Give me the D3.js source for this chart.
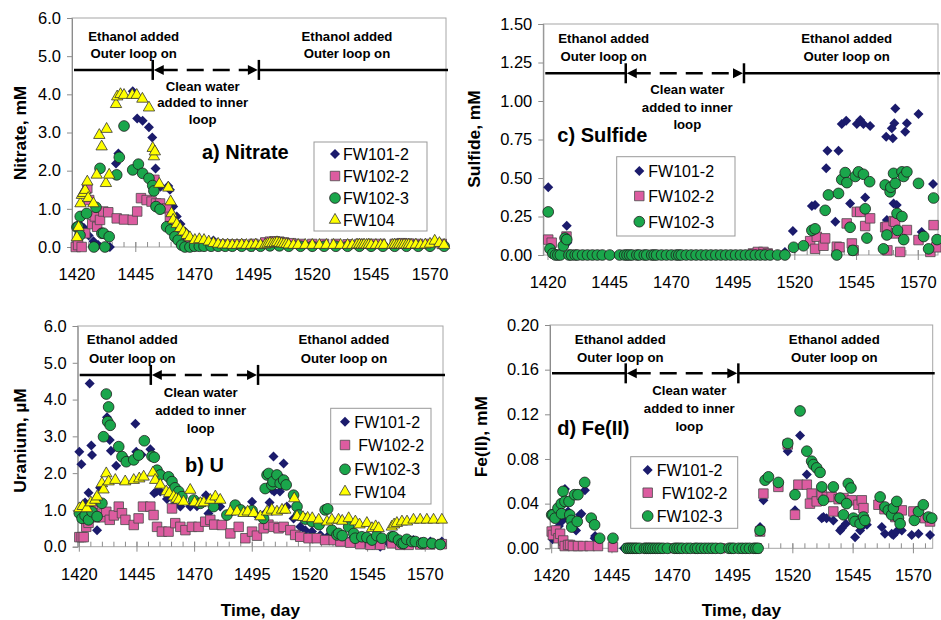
<!DOCTYPE html>
<html>
<head>
<meta charset="utf-8">
<script src="https://cdn.jsdelivr.net/npm/d3@7"></script>
<style>
  body { margin: 0; background: #fff; }
  svg text { font-family: "Liberation Sans", Arial, sans-serif; fill: #000; }
</style>
</head>
<body>
<div id="chart"></div>
<script>
var svgWidth = 941;
var svgHeight = 620;

// ---- data: [day, value] ----
// a) Nitrate, mM
var nitrate101 = [[1420,0.0],[1421,0.6],[1421.5,0.4],[1423,0.5],[1425,0.3],[1427,0.15],[1429,0.05],[1433,0.0],[1434,0.0],[1436.6,2.19],[1437.6,2.45],[1443.7,4.08],[1445.6,3.37],[1447.9,3.31],[1450.6,3.14],[1452,2.87],[1453.4,2.06],[1455.5,1.58],[1458.8,1.6],[1459.5,1.5],[1460.9,1.06],[1462.4,0.8],[1464,0.6],[1466,0.4],[1468,0.25],[1470,0.15],[1473,0.1],[1476,0.12],[1478,0.17],[1482,0.08],[1486,0.06],[1490,0.06],[1495,0.06],[1500,0.08],[1505,0.1],[1510,0.07],[1515,0.06],[1520,0.06],[1525,0.06],[1530,0.06],[1535,0.06],[1540,0.06],[1545,0.06],[1550,0.06],[1555,0.06],[1560,0.06],[1565,0.06],[1570,0.06],[1575,0.06]];
var nitrate102_2 = [[1419.5,0.0],[1420.5,0.05],[1422,0.0],[1423.5,0.36],[1424.4,1.54],[1425.2,1.23],[1426.5,0.6],[1427.6,0.8],[1428.6,0.53],[1429.8,0.71],[1431.2,0.93],[1433.3,0.91],[1436.9,0.75],[1440,0.72],[1443.7,0.71],[1445.6,0.93],[1447.2,1.28],[1449.6,1.23],[1451.7,1.19],[1452.9,1.76],[1453.6,1.14],[1455.3,1.14],[1458.1,1.01],[1459.5,0.79],[1460.9,0.53],[1462.5,0.4],[1464,0.3],[1466,0.2],[1468,0.15],[1470,0.1],[1474,0.08],[1478,0.08],[1482,0.07],[1486,0.07],[1490,0.07],[1495,0.08],[1500,0.12],[1502,0.14],[1504,0.15],[1506,0.14],[1508,0.12],[1511,0.1],[1515,0.08],[1520,0.08],[1525,0.08],[1530,0.08],[1535,0.07],[1540,0.08],[1545,0.08],[1549,0.08],[1555,0.08],[1558,0.1],[1561,0.09],[1565,0.08],[1570,0.08],[1575,0.08]];
var nitrate102_3 = [[1420,0.52],[1420.5,0.53],[1421.3,0.31],[1421.4,0.8],[1424.1,0.88],[1427.2,0.0],[1428.1,1.04],[1429.8,2.06],[1430.6,0.36],[1431.3,0.36],[1431.9,0.0],[1433.7,0.27],[1436.9,1.89],[1438,2.35],[1440,3.17],[1443.7,2.02],[1446.1,2.17],[1447.9,1.93],[1450.6,1.8],[1452.2,1.61],[1452.7,1.47],[1453.6,1.06],[1455.3,0.99],[1458.1,0.53],[1459.8,0.45],[1461.6,0.27],[1463,0.18],[1464.5,0.05],[1465.9,0.0],[1468,0.0],[1470,0.02],[1472,0.02],[1474,0.02],[1477,0.02],[1480,0.02],[1483,0.02],[1486,0.02],[1490,0.02],[1494,0.02],[1498,0.02],[1502,0.03],[1506,0.03],[1510,0.02],[1515,0.02],[1520,0.02],[1525,0.02],[1530,0.02],[1535,0.02],[1540,0.02],[1545,0.02],[1550,0.02],[1555,0.02],[1560,0.02],[1565,0.02],[1570,0.02],[1576,0.02]];
var nitrate104 = [[1420,0.25],[1420.7,0.52],[1421.5,1.14],[1422.1,1.36],[1422.7,1.41],[1423.5,1.49],[1424.4,1.71],[1424.8,1.28],[1427,1.14],[1428.4,1.89],[1429.5,2.93],[1430.5,2.63],[1432.3,1.67],[1432.6,3.09],[1433.7,1.89],[1436.6,3.74],[1437.1,3.94],[1438.5,4.0],[1440,3.98],[1443.5,3.98],[1445.4,3.98],[1447.8,3.88],[1450.6,3.65],[1452.2,2.59],[1452.7,2.37],[1453.1,2.5],[1455,1.65],[1458.8,1.55],[1459.8,1.19],[1460.2,0.88],[1460.9,0.71],[1462.4,0.6],[1463.8,0.49],[1465.2,0.4],[1466.6,0.31],[1468,0.25],[1470.1,0.18],[1472,0.2],[1474,0.18],[1476,0.14],[1478,0.1],[1480,0.08],[1482,0.06],[1484,0.06],[1486,0.05],[1488,0.05],[1490,0.06],[1492,0.05],[1494,0.05],[1496,0.06],[1498,0.05],[1500,0.06],[1501,0.08],[1502,0.1],[1503,0.09],[1504,0.1],[1505,0.12],[1506,0.1],[1507,0.09],[1508,0.08],[1509,0.07],[1510,0.06],[1512,0.05],[1514,0.05],[1517,0.05],[1520,0.05],[1523,0.05],[1526,0.05],[1529,0.05],[1532,0.05],[1535,0.05],[1537,0.05],[1539,0.06],[1540,0.06],[1541,0.05],[1542,0.06],[1543,0.05],[1544,0.06],[1545,0.05],[1547,0.05],[1549,0.05],[1550.5,0.05],[1554,0.05],[1555,0.06],[1556,0.05],[1557,0.06],[1558,0.05],[1559,0.06],[1560,0.05],[1561,0.06],[1562,0.05],[1564,0.06],[1566,0.05],[1568,0.06],[1570,0.08],[1572,0.16],[1574,0.1],[1576,0.05]];

// b) Uranium, uM
var uranium101 = [[1420,2.58],[1420.9,2.24],[1421.5,1.0],[1422.5,1.2],[1424,1.47],[1424.5,4.44],[1425.2,2.75],[1425.5,2.49],[1427.7,0.45],[1429,1.6],[1432,3.52],[1433.2,2.9],[1433.7,2.61],[1436,2.2],[1440,2.4],[1444.3,3.34],[1444.7,2.58],[1447,2.5],[1450.8,2.65],[1452.5,1.45],[1453.5,1.5],[1455.1,1.5],[1458,1.3],[1460.9,1.13],[1463.8,1.09],[1468.1,1.09],[1471,1.1],[1474.9,1.4],[1476,0.9],[1481.1,1.09],[1486,0.95],[1490,1.0],[1494.9,1.22],[1497,0.85],[1500.6,0.91],[1502.5,1.2],[1503.5,1.55],[1504.2,2.45],[1504.5,1.5],[1505.5,1.9],[1506.4,1.95],[1507,1.5],[1508.6,2.26],[1510,1.09],[1512.9,0.77],[1515.8,0.54],[1518,0.45],[1520.9,0.41],[1524.5,0.32],[1528,0.3],[1531.7,0.23],[1537.5,0.18],[1543.3,0.09],[1547,0.05],[1550.5,0.0],[1554,0.1],[1557,0.09],[1561,0.1],[1564.9,0.18],[1568,0.12],[1572.2,0.14],[1577.2,0.14]];
var uranium102_2 = [[1420,0.26],[1421,0.26],[1421.9,0.26],[1423,0.54],[1424,0.65],[1425.9,1.09],[1427,0.8],[1428.5,0.9],[1430,0.8],[1431.7,0.95],[1433.2,0.73],[1435,0.85],[1437.1,1.09],[1438.5,0.91],[1440,0.73],[1443.6,0.59],[1445.7,0.77],[1447.6,1.09],[1450.8,1.09],[1452.2,0.86],[1453.7,0.54],[1455.8,0.41],[1458.7,0.41],[1460.2,1.04],[1461.6,0.64],[1463.8,0.54],[1466,0.45],[1468.8,0.54],[1471.7,0.54],[1474.6,0.68],[1476.8,0.73],[1478.5,0.6],[1481.8,0.59],[1485.5,0.36],[1489.1,0.54],[1492,0.23],[1494.9,0.41],[1497,0.3],[1499.9,0.5],[1502,0.6],[1504.2,0.54],[1506.4,0.5],[1508.6,0.54],[1511.5,0.45],[1513.6,0.32],[1515.8,0.27],[1519.4,0.23],[1523,0.23],[1526.6,0.18],[1530.3,0.18],[1533.2,0.14],[1537.5,0.11],[1541.8,0.07],[1546.2,0.05],[1550.5,0.05],[1555.5,0.09],[1559.2,0.05],[1562.8,0.05],[1567.8,0.06],[1572.2,0.06],[1577.2,0.07]];
var uranium102_3 = [[1420,0.91],[1421.2,0.77],[1422.5,0.85],[1424,0.73],[1425.5,0.95],[1427.7,0.82],[1429.8,1.18],[1430.5,2.99],[1431.7,4.15],[1432.3,3.4],[1432.7,3.8],[1433.4,3.3],[1437.1,2.72],[1438.5,2.45],[1440.4,2.31],[1443.6,2.36],[1445.7,2.49],[1448.2,2.88],[1451.5,2.46],[1452.5,2.43],[1453.7,2.08],[1455.1,1.95],[1458.7,1.9],[1460.2,1.77],[1461.5,1.6],[1463.1,1.5],[1464.5,1.36],[1469.6,1.27],[1472.5,1.18],[1478.2,1.09],[1484,0.86],[1487.6,1.13],[1490,1.0],[1494.9,0.98],[1499.9,0.77],[1500.6,1.58],[1501.4,1.95],[1502.1,1.99],[1503.5,1.68],[1504,1.77],[1505.7,1.95],[1507.1,1.72],[1508.6,1.81],[1509.7,1.68],[1512.9,1.4],[1514.4,1.09],[1515.1,0.86],[1518,0.75],[1521,0.68],[1524,0.6],[1526.6,1.0],[1527.7,1.03],[1529.5,0.45],[1531.7,0.32],[1532.4,0.36],[1534,0.3],[1536.8,0.54],[1539,0.36],[1539.6,0.23],[1542.5,0.27],[1544.7,0.25],[1546.9,0.18],[1549,0.3],[1551.2,0.23],[1555.5,0.27],[1556.3,0.27],[1558.4,0.18],[1559.9,0.09],[1560.6,0.09],[1562,0.2],[1564.2,0.14],[1565.7,0.14],[1568.5,0.09],[1569.3,0.11],[1572.9,0.09],[1576.5,0.06]];
var uranium104 = [[1420,1.04],[1421.5,1.1],[1423.3,1.04],[1425,1.2],[1426.9,1.27],[1427.7,1.36],[1429.8,1.72],[1430.5,1.55],[1431.7,1.99],[1432.7,1.77],[1435.6,1.81],[1439.9,1.77],[1443.6,1.81],[1446,1.85],[1447.9,1.9],[1451.9,2.01],[1452.9,1.81],[1455.1,1.68],[1457.7,1.5],[1459,1.45],[1460.9,1.36],[1462,1.3],[1463.1,1.27],[1465.2,1.22],[1468.1,1.54],[1470,1.2],[1472.5,1.18],[1474,1.2],[1476.8,1.27],[1479,1.36],[1481.1,1.27],[1485.5,0.95],[1488.4,0.95],[1491.2,0.91],[1493,0.95],[1495.6,0.91],[1498.5,0.82],[1501.4,0.95],[1503.5,1.0],[1505.7,0.95],[1507.9,1.0],[1509.3,1.0],[1513.2,1.31],[1514.4,0.82],[1517,0.8],[1519,0.78],[1521,0.77],[1523.8,0.73],[1527.4,0.68],[1529.5,0.73],[1532.4,0.73],[1534,0.7],[1536.8,0.77],[1539.7,0.68],[1541.5,0.6],[1544.7,0.64],[1546.9,0.5],[1548.5,0.55],[1549.8,0.5],[1555.5,0.54],[1556.5,0.6],[1557.7,0.64],[1559.9,0.68],[1562.1,0.68],[1564.9,0.73],[1567.8,0.73],[1570.7,0.73],[1573.6,0.73],[1577.2,0.73]];

// c) Sulfide, mM
var sulfide101 = [[1420.1,0.44],[1427.6,0.19],[1427.8,0.08],[1430,0],[1440,0],[1450,0],[1460,0],[1470,0],[1480,0],[1490,0],[1500,0],[1510,0],[1516,0.02],[1519.2,0.156],[1526.9,0.318],[1528.2,0.324],[1532.7,0.563],[1533.2,0.677],[1536.4,0.216],[1537.7,0.677],[1539,0.851],[1540.8,0.872],[1542.4,0.335],[1545.1,0.851],[1546.5,0.877],[1547.8,0.851],[1548.5,0.374],[1550.5,0.838],[1557,0.768],[1557.3,0.227],[1559.3,0.823],[1559.7,0.758],[1560,0.335],[1560.3,0.855],[1560.7,0.952],[1561.3,0.324],[1564.7,0.8],[1565.4,0.855],[1570.1,0.916],[1571.4,0.15],[1576,0.461]];
var sulfide102_2 = [[1420.1,0.10],[1421.5,0.08],[1427.5,0.12],[1503,0.01],[1505,0.02],[1507.3,0.02],[1509,0.01],[1526.2,0.09],[1528.2,0.04],[1528.9,0.118],[1531.6,0.06],[1532.3,0.108],[1537,0.054],[1538.1,0.05],[1541,0.205],[1543.1,0.075],[1543.8,0.03],[1545.1,0.28],[1546.5,0.28],[1548.5,0.188],[1550.5,0.238],[1556.6,0.18],[1557.3,0.184],[1557.5,0.03],[1560,0.22],[1560.6,0.216],[1560.9,0.14],[1562.7,0.02],[1565.4,0.162],[1570.1,0.097],[1574.9,0.02],[1576.2,0.194],[1577.3,0.05]];
var sulfide102_3 = [[1420.1,0.28],[1420.8,0.04],[1422,0.01],[1423,0],[1424,0],[1425,0],[1426.2,0.06],[1426.9,0.11],[1427.6,0.10],[1428.5,0],[1429.5,0],[1431,0],[1432,0],[1434,0],[1436,0],[1438,0],[1440,0],[1442,0],[1445,0],[1449,0],[1451,0],[1452,0],[1453,0],[1454,0],[1456,0],[1457,0],[1459,0],[1460,0],[1462,0],[1463,0],[1464,0],[1466,0],[1468,0],[1470,0],[1472,0],[1473,0],[1474,0],[1476,0],[1478,0],[1480,0],[1482,0],[1484,0],[1486,0],[1488,0],[1490,0],[1492,0],[1494,0],[1496,0],[1498,0],[1500,0],[1502,0],[1504,0],[1506,0],[1508,0],[1510,0],[1513,0],[1516,0],[1519.5,0.05],[1523.5,0.06],[1526.9,0.16],[1528.2,0.17],[1532.3,0.29],[1533.6,0.39],[1537,0.0],[1537.7,0.40],[1539,0.49],[1540.4,0.535],[1541.1,0.47],[1542.4,0.18],[1543.5,0.03],[1544.5,0.51],[1545.8,0.54],[1547.8,0.524],[1548.5,0.30],[1549.2,0.11],[1550.3,0.476],[1555.9,0.04],[1556.6,0.455],[1557.3,0.13],[1558.6,0.41],[1558.9,0.44],[1560,0.53],[1560.7,0.465],[1561.4,0.27],[1561.6,0.16],[1563.4,0.54],[1563.4,0.25],[1564.1,0.51],[1564.1,0.1],[1565.4,0.54],[1570.1,0.465],[1572.2,0.12],[1574.2,0.04],[1576.2,0.37],[1577.6,0.1]];

// d) Fe(II), mM
var iron101 = [[1420.4,0.008],[1421.5,0.012],[1423,0.02],[1424.5,0.025],[1425.5,0.053],[1426.1,0.028],[1426.8,0.033],[1430.1,0.016],[1431.8,0.030],[1432.3,0.031],[1433.8,0.052],[1437.8,0.009],[1438,0.011],[1450,0],[1460,0],[1470,0],[1480,0],[1490,0],[1500,0],[1506.4,0.019],[1507.8,0.043],[1517.9,0.087],[1520.9,0.034],[1523,0.101],[1525.8,0.066],[1532,0.027],[1532.7,0.028],[1534,0.027],[1536.8,0.025],[1539.6,0.016],[1540.3,0.018],[1542,0.022],[1545.8,0.010],[1547.9,0.016],[1549,0.02],[1550.7,0.021],[1556.9,0.019],[1558.2,0.013],[1561,0.013],[1561.7,0.012],[1563,0.015],[1565.2,0.016],[1569.3,0.012],[1572.1,0.013],[1576.9,0.012]];
var iron102_2 = [[1420,0.015],[1420.5,0.012],[1421.8,0.016],[1422.8,0.009],[1423.5,0.013],[1424.7,0.004],[1424.8,0.007],[1425.4,0.002],[1426.8,0.003],[1427.6,0.003],[1428.8,0.002],[1430.9,0.002],[1433,0.002],[1435.8,0.002],[1439.2,0.002],[1445.4,0.001],[1452,0],[1460,0],[1470,0],[1480,0],[1490,0],[1500,0],[1505,0],[1506.4,0.015],[1507.8,0.049],[1514,0.055],[1517.9,0.093],[1520.9,0.030],[1522.3,0.057],[1525.8,0.057],[1527.1,0.040],[1527.8,0.049],[1529.9,0.042],[1532,0.048],[1534.1,0.046],[1536.1,0.046],[1536.8,0.033],[1539,0.044],[1541,0.045],[1544.4,0.043],[1547.2,0.039],[1548.6,0.043],[1549.3,0.036],[1555.5,0.039],[1558,0.035],[1561,0.034],[1562.5,0.028],[1565.2,0.034],[1570,0.033],[1574.8,0.027],[1576.9,0.024]];
var iron102_3 = [[1420,0.030],[1420.5,0.030],[1421.4,0.027],[1422.6,0.036],[1424,0.040],[1424.1,0.031],[1424.7,0.051],[1425.5,0.042],[1427.2,0.042],[1427.5,0.030],[1428.1,0.025],[1428.3,0.019],[1429.5,0.048],[1430.6,0.024],[1430.9,0.048],[1433.7,0.059],[1436.4,0.027],[1437.8,0.021],[1439.9,0.009],[1445.4,0.009],[1451.1,0],[1452,0],[1452.8,0],[1453.6,0],[1454.5,0],[1455.3,0],[1456.5,0],[1458.5,0],[1459.3,0],[1460.2,0],[1461,0],[1462,0],[1463,0],[1464,0],[1465,0],[1466.2,0],[1468,0],[1471,0],[1472,0],[1473,0],[1474.2,0],[1476,0],[1477.5,0],[1479.5,0],[1480.5,0],[1482,0],[1483.5,0],[1485,0],[1486.5,0],[1488,0],[1490,0],[1493.5,0],[1494.5,0],[1495.5,0],[1497.5,0],[1499,0],[1500.5,0],[1502,0],[1503.8,0],[1504.7,0],[1505.6,0],[1506.4,0.016],[1508.5,0.061],[1509.9,0.064],[1514,0.059],[1517.9,0.094],[1520.9,0.048],[1523,0.123],[1525.8,0.087],[1527.8,0.078],[1528.5,0.075],[1529.9,0.072],[1531.3,0.068],[1532,0.055],[1532.7,0.043],[1536.8,0.055],[1539.6,0.045],[1541,0.030],[1542.3,0.040],[1543,0.058],[1544.1,0.054],[1545.1,0.027],[1545.8,0.024],[1547.9,0.022],[1549.3,0.028],[1549.9,0.025],[1556.2,0.046],[1558.2,0.037],[1559.6,0.034],[1561,0.030],[1561.7,0.036],[1563.1,0.042],[1563.8,0.027],[1564.5,0.022],[1570.4,0.025],[1572.1,0.033],[1574.1,0.039],[1576.2,0.028],[1577.6,0.027]];

var seriesNames = ["FW101-2", "FW102-2", "FW102-3", "FW104"];
var xTicks = [1420, 1445, 1470, 1495, 1520, 1545, 1570];
var xMinorTicks = d3.range(1420, 1580, 5);
var yTicksUM = [0, 1, 2, 3, 4, 5, 6];
var yTicksSulfide = [0, 0.25, 0.5, 0.75, 1.0, 1.25, 1.5];
var yTicksFe = [0, 0.04, 0.08, 0.12, 0.16, 0.2];

var styles = {
  "FW101-2": {type: d3.symbolSquare, size: 50, rotate: 45, fill: "#1b1b6c", stroke: "none"},
  "FW102-2": {type: d3.symbolSquare, size: 90, rotate: 0, fill: "#dc5ca0", stroke: "#4a4a4a"},
  "FW102-3": {type: d3.symbolCircle, size: 90, rotate: 0, fill: "#1aa64b", stroke: "#1e1e1e"},
  "FW104":   {type: d3.symbolTriangle, size: 56, rotate: 0, fill: "#ffff00", stroke: "#333"}
};

var panels = [
  {left: 72, right: 446, top: 18, bottom: 247, xDomain: [1417.9, 1576.8], yDomain: [0, 6],
   yTicks: yTicksUM, yFmt: ".1f", yTitle: "Nitrate, mM", yTitleX: 25.5, yTitleY: 133,
   title: "a) Nitrate", titleX: 202, titleY: 159,
   phase: [1452.2, 1497.3], phaseY: 4.64, leftTxt: [133.7, 41], rightTxt: [347, 41], cleanTxt: [202.7, 90.5], lh: 16.5,
   legend: {x: 314, y: 142, w: 113, h: 89, mx: 335, tx: 343, rows: [154, 176, 198, 220], pad: [0, 0, 0, 0]},
   data: [nitrate101, nitrate102_2, nitrate102_3, nitrate104], xTitle: false},
  {left: 77.7, right: 443, top: 326, bottom: 546.7, xDomain: [1419.3, 1577.7], yDomain: [0, 6],
   yTicks: yTicksUM, yFmt: ".1f", yTitle: "Uranium, \u00b5M", yTitleX: 25.5, yTitleY: 440.5,
   title: "b) U", titleX: 185, titleY: 471.5,
   phase: [1451, 1497.5], phaseY: 4.67, leftTxt: [132.3, 344.3], rightTxt: [344, 344.3], cleanTxt: [200.7, 396.7], lh: 18.3,
   legend: {x: 330.7, y: 408.3, w: 100.3, h: 95.7, mx: 345, tx: 354.3, rows: [421.7, 445, 469.3, 491.7], pad: [0, 4, 0, 0]},
   data: [uranium101, uranium102_2, uranium102_3, uranium104], xTitle: true},
  {left: 543.3, right: 938, top: 24, bottom: 255, xDomain: [1418.1, 1578], yDomain: [0, 1.5],
   yTicks: yTicksSulfide, yFmt: ".2f", yTitle: "Sulfide, mM", yTitleX: 479.5, yTitleY: 139,
   title: "c) Sulfide", titleX: 557.3, titleY: 141.7,
   phase: [1451.5, 1499.4], phaseY: 1.18, leftTxt: [603.7, 43.3], rightTxt: [846.7, 43.3], cleanTxt: [687.3, 94.3], lh: 17.4,
   legend: {x: 616.7, y: 156.7, w: 118.3, h: 79.3, mx: 639.3, tx: 648.3, rows: [171, 196, 221.7], pad: [0, 0, 0]},
   data: [sulfide101, sulfide102_2, sulfide102_3], xTitle: false},
  {left: 550, right: 932.7, top: 325, bottom: 548.3, xDomain: [1419.3, 1578], yDomain: [0, 0.2],
   yTicks: yTicksFe, yFmt: ".2f", yTitle: "Fe(II), mM", yTitleX: 487, yTitleY: 436.7,
   title: "d) Fe(II)", titleX: 557.3, titleY: 435,
   phase: [1450.7, 1497.4], phaseY: 0.1567, leftTxt: [620.3, 344], rightTxt: [834.3, 344], cleanTxt: [689.3, 395], lh: 18,
   legend: {x: 630.7, y: 456.7, w: 107, h: 71.6, mx: 647.7, tx: 656.7, rows: [470, 492.7, 516], pad: [0, 5, 0]},
   data: [iron101, iron102_2, iron102_3], xTitle: true}
];

var svg = d3.select("#chart")
  .append("svg")
  .attr("width", svgWidth)
  .attr("height", svgHeight);

function marker(sel, name) {
  var s = styles[name];
  sel.attr("d", d3.symbol().type(s.type).size(s.size))
    .style("fill", s.fill)
    .style("stroke", s.stroke)
    .style("stroke-width", 0.8);
}

panels.forEach(function(p) {
  var x = d3.scaleLinear().domain(p.xDomain).range([p.left, p.right]);
  var y = d3.scaleLinear().domain(p.yDomain).range([p.bottom, p.top]);
  var g = svg.append("g");

  // plot frame
  g.append("rect")
    .attr("x", p.left).attr("y", p.top)
    .attr("width", p.right - p.left).attr("height", p.bottom - p.top)
    .attr("fill", "none").attr("stroke", "#a6a6a6").attr("stroke-width", 1);

  // y axis
  var yAxis = g.append("g")
    .attr("transform", `translate(${p.left},0)`)
    .call(d3.axisLeft(y).tickValues(p.yTicks).tickFormat(d3.format(p.yFmt)).tickSize(5).tickPadding(6));
  yAxis.select(".domain").attr("stroke", "#8c8c8c");
  yAxis.selectAll(".tick line").attr("stroke", "#8c8c8c");
  yAxis.selectAll("text").attr("font-size", "16.5px").attr("font-family", null);

  // x axis: minor ticks inside, major ticks cross
  var xAxisG = g.append("g");
  xAxisG.selectAll("line.minor")
    .data(xMinorTicks.filter(d => x(d) <= p.right))
    .enter().append("line")
    .attr("x1", d => x(d)).attr("x2", d => x(d))
    .attr("y1", p.bottom).attr("y2", p.bottom - 5)
    .attr("stroke", "#8c8c8c");
  xAxisG.selectAll("line.major")
    .data(xTicks)
    .enter().append("line")
    .attr("x1", d => x(d)).attr("x2", d => x(d))
    .attr("y1", p.bottom - 5).attr("y2", p.bottom + 5)
    .attr("stroke", "#8c8c8c");
  xAxisG.selectAll("text")
    .data(xTicks)
    .enter().append("text")
    .attr("x", d => x(d))
    .attr("y", p.bottom + 33)
    .attr("text-anchor", "middle")
    .attr("font-size", "16.5px")
    .text(d => d);

  // y title
  g.append("text")
    .attr("transform", `translate(${p.yTitleX},${p.yTitleY}) rotate(-90)`)
    .attr("text-anchor", "middle")
    .attr("font-size", "17.4px")
    .attr("font-weight", "bold")
    .text(p.yTitle);

  if (p.xTitle) {
    g.append("text")
      .attr("x", (p.left + p.right) / 2)
      .attr("y", 615.5)
      .attr("text-anchor", "middle")
      .attr("font-size", "17.3px")
      .attr("font-weight", "bold")
      .text("Time, day");
  }

  // data points
  p.data.forEach(function(series, i) {
    var name = seriesNames[i];
    var st = styles[name];
    g.append("g").selectAll("path")
      .data(series)
      .enter().append("path")
      .attr("transform", d => `translate(${x(d[0])},${y(d[1])}) rotate(${st.rotate})`)
      .call(marker, name);
  });

  // phase bar
  var x1 = x(p.phase[0]), x2 = x(p.phase[1]), yb = y(p.phaseY);
  var bar = g.append("g").attr("stroke", "#000").attr("stroke-width", 2.5);
  bar.append("line").attr("x1", p.left + 2).attr("x2", x1).attr("y1", yb).attr("y2", yb);
  bar.append("line").attr("x1", x2).attr("x2", p.right + 2).attr("y1", yb).attr("y2", yb);
  bar.append("line").attr("x1", x1 + 8).attr("x2", x2 - 8).attr("y1", yb).attr("y2", yb)
    .attr("stroke-dasharray", "17,9");
  bar.append("line").attr("x1", x1).attr("x2", x1).attr("y1", yb - 10).attr("y2", yb + 10);
  bar.append("line").attr("x1", x2).attr("x2", x2).attr("y1", yb - 10).attr("y2", yb + 10);
  g.append("path")
    .attr("d", `M${x1 + 1},${yb} L${x1 + 11},${yb - 5} L${x1 + 11},${yb + 5} Z`)
    .attr("fill", "#000");
  g.append("path")
    .attr("d", `M${x2 - 1},${yb} L${x2 - 11},${yb - 5} L${x2 - 11},${yb + 5} Z`)
    .attr("fill", "#000");

  // annotation text
  function lines(pos, arr) {
    arr.forEach(function(t, k) {
      g.append("text")
        .attr("x", pos[0]).attr("y", pos[1] + k * p.lh)
        .attr("text-anchor", "middle")
        .attr("font-size", "13.2px")
        .attr("font-weight", "bold")
        .text(t);
    });
  }
  lines(p.leftTxt, ["Ethanol added", "Outer loop on"]);
  lines(p.rightTxt, ["Ethanol added", "Outer loop on"]);
  lines(p.cleanTxt, ["Clean water", "added to inner", "loop"]);

  // panel title
  g.append("text")
    .attr("x", p.titleX).attr("y", p.titleY)
    .attr("font-size", "20px")
    .attr("font-weight", "bold")
    .text(p.title);

  // legend
  var L = p.legend;
  var lg = g.append("g");
  lg.append("rect")
    .attr("x", L.x).attr("y", L.y).attr("width", L.w).attr("height", L.h)
    .attr("fill", "#fff").attr("stroke", "#999").attr("stroke-width", 1);
  L.rows.forEach(function(ry, i) {
    var name = seriesNames[i];
    lg.append("path")
      .attr("transform", `translate(${L.mx},${ry}) rotate(${styles[name].rotate})`)
      .call(marker, name);
    lg.append("text")
      .attr("x", L.tx + L.pad[i]).attr("y", ry + 6)
      .attr("font-size", "16px")
      .text(name);
  });
});
</script>
</body>
</html>
